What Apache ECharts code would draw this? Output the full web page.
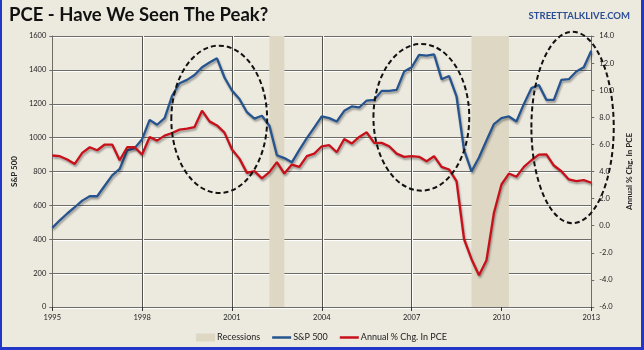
<!DOCTYPE html>
<html>
<head>
<meta charset="utf-8">
<script src="https://cdn.jsdelivr.net/npm/echarts@6/dist/echarts.min.js"></script>
<style>
  html, body { margin: 0; padding: 0; background: #ECE9DF; }
  #chart {
    width: 644px; height: 350px; box-sizing: border-box;
    border-left: 2px solid #2236C8; border-right: 3px solid #2236C8; border-bottom: 3px solid #2236C8;
  }
</style>
</head>
<body>
<div id="chart"></div>
<script>
// quarterly observations, 1995 Q1 .. 2013 Q1
const years = [1995, 1996, 1997, 1998, 1999, 2000, 2001, 2002, 2003, 2004,
  2005, 2006, 2007, 2008, 2009, 2010, 2011, 2012, 2013];
const tickYears = ['1995', '1998', '2001', '2004', '2007', '2010', '2013'];

const spx = [467, 512, 552, 589, 628, 654, 654, 716, 777, 815, 925, 938,
  991, 1105, 1076, 1115, 1246, 1321, 1341, 1370, 1415, 1443, 1468, 1355,
  1278, 1228, 1150, 1112, 1129, 1070, 896, 879, 854, 928, 997, 1060,
  1125, 1115, 1095, 1158, 1184, 1178, 1219, 1223, 1276, 1276, 1282, 1390,
  1415, 1488, 1484, 1492, 1345, 1364, 1243, 928, 801, 883, 983, 1080,
  1115, 1125, 1095, 1199, 1292, 1311, 1223, 1223, 1341, 1345, 1390, 1415, 1513];

const pce = [5.18, 5.13, 4.88, 4.56, 5.37, 5.79, 5.57, 5.99, 5.99, 4.83, 5.79, 5.79,
  5.25, 6.55, 6.28, 6.65, 6.84, 7.09, 7.16, 7.28, 8.49, 7.70, 7.40, 6.87,
  5.62, 4.95, 3.90, 4.03, 3.49, 3.95, 4.69, 3.85, 4.51, 4.34, 5.13, 5.32,
  5.86, 5.94, 5.42, 6.40, 6.06, 6.55, 6.89, 6.11, 6.11, 5.86, 5.32, 5.08,
  5.13, 5.08, 4.76, 5.13, 4.34, 4.15, 3.29, -0.98, -2.47, -3.65, -2.55, 0.96,
  3.04, 3.85, 3.61, 4.34, 4.83, 5.25, 5.27, 4.44, 4.02, 3.41, 3.29, 3.36, 3.17];

const recessions = [['2002 Q2', '2002 Q4'], ['2009 Q1', '2010 Q2']];

// dashed ellipses: centre [quarter index, S&P value], radii [quarters, S&P points]
const ellipses = [
  [22.3, 1108, 6.4, 435],
  [49.3, 1120, 6.4, 433],
  [69.5, 1060, 5.5, 565]
];

const quarters = [];
years.forEach(y => {
  ['Q1', 'Q2', 'Q3', 'Q4'].forEach(q => quarters.push(y + ' ' + q));
});
quarters.length = spx.length;

const font = 'Lato, "Liberation Sans", sans-serif';
const gridColor = '#6E6C66';
const lineIcon = 'path://M0,0H19V2.5H0Z';

const myChart = echarts.init(document.getElementById('chart'));

const option = {
  backgroundColor: '#ECE9DF',
  animation: false,
  textStyle: { fontFamily: font },
  title: [
    {
      text: 'PCE - Have We Seen The Peak?',
      left: 2, top: 1,
      textStyle: { fontSize: 18.5, fontWeight: 'bold', color: '#111', fontFamily: font }
    },
    {
      text: 'STREETTALKLIVE.COM',
      right: 6, top: 6,
      textStyle: { fontSize: 9.5, fontWeight: 'bold', color: '#2C4E93', fontFamily: font }
    }
  ],
  legend: {
    bottom: 0,
    left: 'center',
    itemWidth: 19,
    itemHeight: 8,
    itemGap: 12,
    textStyle: { fontSize: 9, color: '#222', fontFamily: font, padding: [0, 0, 0, -3] },
    data: [
      { name: 'Recessions', icon: 'rect' },
      { name: 'S&P 500', icon: lineIcon },
      { name: 'Annual % Chg. In PCE', icon: lineIcon }
    ]
  },
  grid: { left: 38, right: 40, top: 36, bottom: 40 },
  xAxis: {
    type: 'category',
    data: quarters,
    boundaryGap: false,
    axisLine: { lineStyle: { color: gridColor } },
    axisTick: { interval: i => i % 12 === 0, length: 4, lineStyle: { color: '#333' } },
    axisLabel: {
      interval: i => i % 12 === 0,
      formatter: v => (tickYears.indexOf(v.slice(0, 4)) >= 0 ? v.slice(0, 4) : ''),
      fontSize: 7.5, color: '#222', margin: 7
    },
    splitLine: {
      show: true,
      interval: i => i % 12 === 0 && i > 0 && i < 72,
      lineStyle: { color: '#55534E', width: 1, shadowColor: '#ffffff', shadowOffsetX: 1 }
    }
  },
  yAxis: [
    {
      type: 'value',
      min: 0, max: 1600, interval: 200,
      name: 'S&P 500',
      nameLocation: 'middle',
      nameGap: 28,
      nameTextStyle: { fontSize: 8, fontWeight: 'bold', color: '#222' },
      axisLine: { show: true, lineStyle: { color: gridColor } },
      axisTick: { show: true, length: 3, lineStyle: { color: gridColor } },
      axisLabel: { fontSize: 7.5, color: '#222', margin: 6, formatter: v => String(v) },
      splitLine: {
        lineStyle: { color: gridColor, width: 1, shadowColor: '#ffffff', shadowOffsetY: 1 }
      }
    },
    {
      type: 'value',
      min: -6, max: 14, interval: 2,
      position: 'right',
      name: 'Annual % Chg. In PCE',
      nameLocation: 'middle',
      nameRotate: 90,
      nameGap: 32,
      nameTextStyle: { fontSize: 8, fontWeight: 'bold', color: '#222' },
      axisLine: { show: true, lineStyle: { color: gridColor } },
      axisTick: { show: true, length: 3, lineStyle: { color: gridColor } },
      axisLabel: { fontSize: 7.5, color: '#222', margin: 8, formatter: v => v.toFixed(1) },
      splitLine: { show: false }
    }
  ],
  series: [
    {
      name: 'Recessions',
      type: 'line',
      data: [],
      color: '#DDD7C4',
      itemStyle: { color: '#DDD7C4' },
      markArea: {
        silent: true,
        itemStyle: { color: '#DDD7C4' },
        data: recessions.map(r => [{ xAxis: r[0] }, { xAxis: r[1] }])
      }
    },
    {
      name: 'S&P 500',
      type: 'line',
      yAxisIndex: 0,
      data: spx,
      symbol: 'none',
      color: '#26548F',
      lineStyle: {
        width: 2.3, color: '#26548F',
        shadowColor: 'rgba(0,0,0,0.35)', shadowBlur: 2, shadowOffsetX: 1, shadowOffsetY: 2
      },
      z: 3
    },
    {
      name: 'Annual % Chg. In PCE',
      type: 'line',
      yAxisIndex: 1,
      data: pce,
      symbol: 'none',
      color: '#C8101A',
      lineStyle: {
        width: 2.3, color: '#C8101A',
        shadowColor: 'rgba(0,0,0,0.35)', shadowBlur: 2, shadowOffsetX: 1, shadowOffsetY: 2
      },
      z: 4
    }
  ]
};

myChart.setOption(option);

// place the dashed ellipses through the chart's own scales
const x0 = myChart.convertToPixel({ xAxisIndex: 0 }, 0);
const x1 = myChart.convertToPixel({ xAxisIndex: 0 }, quarters.length - 1);
const xAt = i => x0 + (x1 - x0) * i / (quarters.length - 1);
const yAt = v => myChart.convertToPixel({ yAxisIndex: 0 }, v);

myChart.setOption({
  graphic: ellipses.map(e => {
    const cx = xAt(e[0]);
    const cy = yAt(e[1]);
    return {
      type: 'ellipse',
      z: 100,
      silent: true,
      shape: {
        cx: cx, cy: cy,
        rx: xAt(e[0] + e[2]) - cx,
        ry: cy - yAt(e[1] + e[3])
      },
      style: { fill: null, stroke: '#111', lineWidth: 2, lineDash: [5, 3] }
    };
  })
});
</script>
</body>
</html>
